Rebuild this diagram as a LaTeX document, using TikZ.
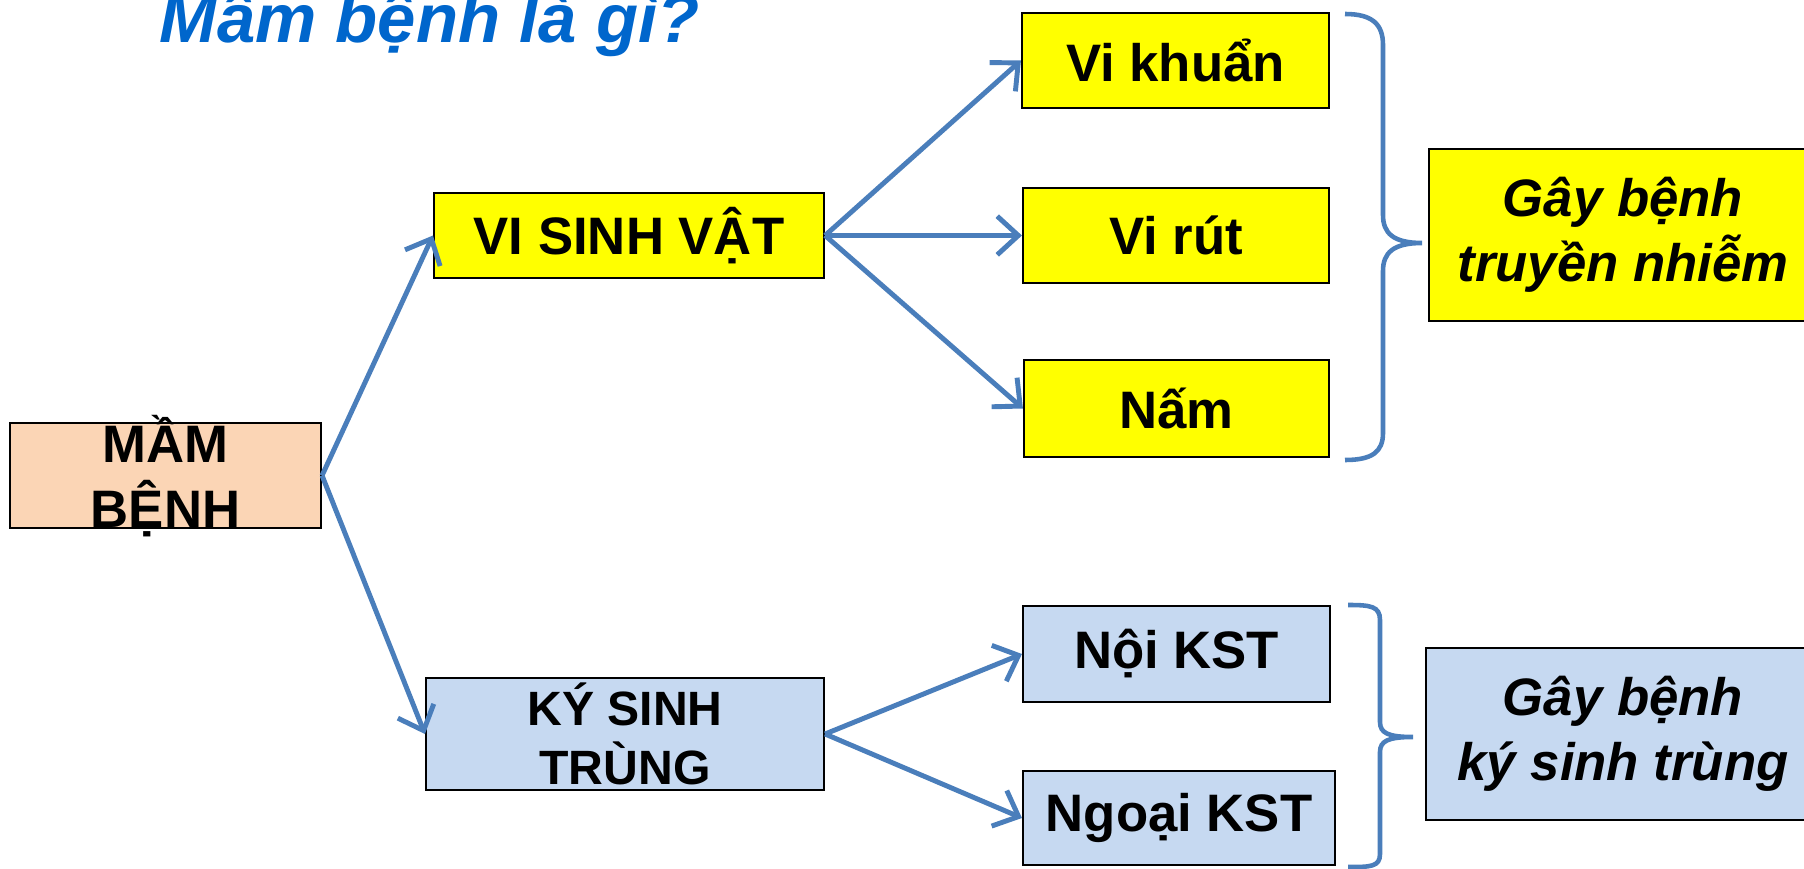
\documentclass[tikz,border=0pt]{standalone}
\usepackage{fontspec}
\setmainfont{Liberation Sans}
\usetikzlibrary{arrows.meta}

\definecolor{boxyellow}{HTML}{FFFF00}
\definecolor{boxpeach}{HTML}{FBD5B5}
\definecolor{boxblue}{HTML}{C6D9F1}
\definecolor{linkblue}{HTML}{4A7EBB}
\definecolor{titleblue}{HTML}{0066CC}

\tikzset{
  box/.style={draw=black, line width=0.6pt, align=center, inner sep=0pt,
    font=\fontsize{15}{18.3}\selectfont\bfseries},
  link/.style={draw=linkblue, line width=1.4pt, -{Straight Barb[length=6pt,width=11pt]}},
  bracket/.style={draw=linkblue, line width=1.3pt}
}

\begin{document}
\begin{tikzpicture}
\useasboundingbox (0,0) rectangle (18.04,-8.69);

% Title
\node[anchor=base west, inner sep=0pt, text=titleblue,
  font=\fontsize{19.6}{22}\selectfont\bfseries\itshape] (title) at (1.59,-0.43) {Mầm bệnh là gì?};

% Left box
\node[box, fill=boxpeach, minimum width=3.11cm, minimum height=1.05cm] (mam) at (1.655,-4.755) {};
\node[align=center, inner sep=0pt, font=\fontsize{15}{18.3}\selectfont\bfseries] (mamtext) at (1.655,-4.76) {MẦM\\BỆNH};

% Middle boxes
\node[box, fill=boxyellow, minimum width=3.90cm, minimum height=0.85cm] (vsv) at (6.29,-2.355) {VI SINH VẬT};
\node[box, fill=boxblue, font=\fontsize{13.7}{17}\selectfont\bfseries,
  minimum width=3.98cm, minimum height=1.12cm] (kst) at (6.25,-7.34) {KÝ SINH\\TRÙNG};

% Right boxes
\node[box, fill=boxyellow, minimum width=3.07cm, minimum height=0.95cm] (vk) at (11.755,-0.605) {Vi khuẩn};
\node[box, fill=boxyellow, minimum width=3.06cm, minimum height=0.95cm] (vr) at (11.76,-2.355) {Vi rút};
\node[box, fill=boxyellow, minimum width=3.05cm, minimum height=0.97cm] (nam) at (11.765,-4.085) {Nấm};
\node[box, fill=boxblue, minimum width=3.07cm, minimum height=0.96cm] (noi) at (11.765,-6.54) {Nội KST};
\node[box, fill=boxblue, minimum width=3.12cm, minimum height=0.94cm] (ngoai) at (11.79,-8.18) {Ngoại KST};

% Result boxes
\node[box, fill=boxyellow, font=\fontsize{15}{18.4}\selectfont\bfseries\itshape,
  minimum width=3.88cm, minimum height=1.72cm] (gbtn) at (16.23,-2.35) {Gây bệnh\\truyền nhiễm};
\node[box, fill=boxblue, font=\fontsize{15}{18.4}\selectfont\bfseries\itshape,
  minimum width=3.94cm, minimum height=1.72cm] (gbkst) at (16.23,-7.34) {Gây bệnh\\ký sinh trùng};

% Arrows
\draw[link] (mam.east) -- (vsv.west);
\draw[link] (mam.east) -- (kst.west);
\draw[link] (vsv.east) -- (vk.west);
\draw[link] (vsv.east) -- (vr.west);
\draw[link] (vsv.east) -- (nam.west);
\draw[link] (kst.east) -- (noi.west);
\draw[link] (kst.east) -- (ngoai.west);

% Braces
\draw[bracket] (13.45,-0.14) .. controls (13.72,-0.14) and (13.83,-0.24) .. (13.83,-0.45)
  -- (13.83,-2.15) .. controls (13.83,-2.33) and (13.93,-2.43) .. (14.22,-2.43)
  .. controls (13.93,-2.43) and (13.83,-2.53) .. (13.83,-2.71)
  -- (13.83,-4.33) .. controls (13.83,-4.52) and (13.72,-4.60) .. (13.45,-4.60);
\draw[bracket] (13.48,-6.05) .. controls (13.70,-6.05) and (13.80,-6.06) .. (13.80,-6.20)
  -- (13.80,-7.22) .. controls (13.80,-7.33) and (13.88,-7.37) .. (14.13,-7.37)
  .. controls (13.88,-7.37) and (13.80,-7.41) .. (13.80,-7.52)
  -- (13.80,-8.54) .. controls (13.80,-8.67) and (13.70,-8.67) .. (13.48,-8.67);
\end{tikzpicture}
\end{document}
